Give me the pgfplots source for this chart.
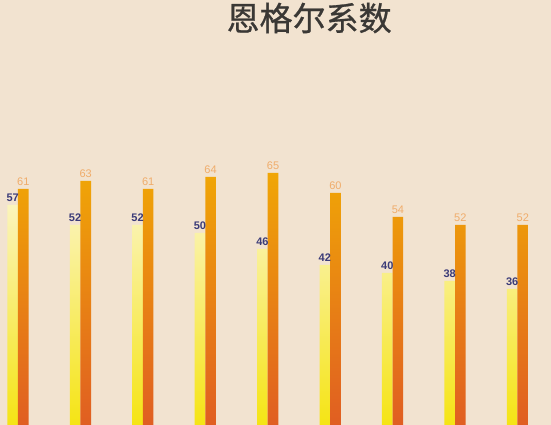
\documentclass[border=0pt]{standalone}
\usepackage{pgfplots}
\pgfplotsset{compat=1.18}
\usepackage{fontspec}
\setmainfont{Liberation Sans}
\newfontfamily\cjk[FakeBold=0.8]{Noto Sans CJK SC}
\definecolor{bg}{HTML}{F2E3D0}
\definecolor{titlecol}{HTML}{3A3835}
\definecolor{ytop}{HTML}{FBF4BC}
\definecolor{ymid}{HTML}{F7EA2C}
\definecolor{ybot}{HTML}{F5E414}
\definecolor{otop}{HTML}{F0A606}
\definecolor{omid}{HTML}{E98514}
\definecolor{obot}{HTML}{E05E22}
\definecolor{ylab}{HTML}{3B3B78}
\definecolor{olab}{HTML}{F0AC6A}
\begin{document}
\begin{tikzpicture}
\begin{axis}[
  scale only axis, width=551pt, height=425pt,
  xmin=-0.288, xmax=8.537, ymin=2, ymax=108.25,
  axis line style={draw=none}, ticks=none,
  axis background/.style={fill=bg},
  ybar=0pt, bar width=0.17,
  title={\cjk 恩格尔系数},
  title style={at={(rel axis cs:0.561,0.914)}, anchor=base, overlay,
    font=\fontsize{33}{36}\selectfont, text=titlecol},
  nodes near coords,
  /pgf/number format/assume math mode=true,
]
\addplot[draw=none, top color=ytop, middle color=ymid, bottom color=ybot,
  nodes near coords style={text=ylab, font=\bfseries\fontsize{11}{12}\selectfont}]
  coordinates {(0,57) (1,52) (2,52) (3,50) (4,46) (5,42) (6,40) (7,38) (8,36)};
\addplot[draw=none, top color=otop, middle color=omid, bottom color=obot,
  nodes near coords style={text=olab, font=\fontsize{11}{12}\selectfont}]
  coordinates {(0,61) (1,63) (2,61) (3,64) (4,65) (5,60) (6,54) (7,52) (8,52)};
\end{axis}
\end{tikzpicture}
\end{document}
